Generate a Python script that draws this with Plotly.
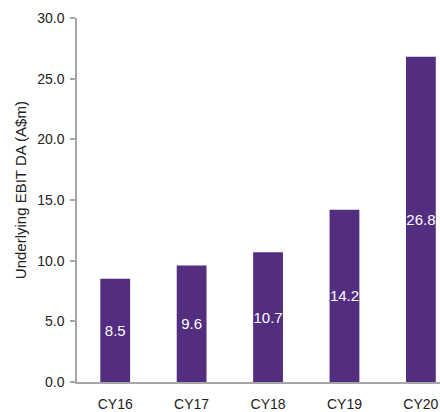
import plotly.graph_objects as go

categories = ["CY16", "CY17", "CY18", "CY19", "CY20"]
values = [8.5, 9.6, 10.7, 14.2, 26.8]
labels = ["8.5", "9.6", "10.7", "14.2", "26.8"]
y_title = "Underlying EBIT DA (A$m)"

FONT = "Liberation Sans, Arial, sans-serif"

fig = go.Figure(go.Bar(
    x=list(range(len(categories))),
    y=values,
    text=labels,
    textposition="inside",
    insidetextanchor="middle",
    textangle=0,
    constraintext="none",
    textfont=dict(color="white", size=15, family=FONT),
    marker=dict(color="#522D80", line=dict(width=0)),
    width=0.39,
    cliponaxis=False,
))

fig.update_layout(
    width=440, height=412,
    margin=dict(l=77, r=0, t=18, b=30, autoexpand=False),
    paper_bgcolor="white", plot_bgcolor="white",
    showlegend=False,
    uniformtext=dict(minsize=15, mode="show"),
    font=dict(family=FONT, color="#222222", size=14),
    xaxis=dict(
        range=[-0.5, 4.25],
        automargin=False,
        tickmode="array",
        tickvals=list(range(len(categories))),
        ticktext=categories,
        showline=True, linecolor="#A6A6A6", linewidth=1.5,
        ticks="", showgrid=False, zeroline=False,
        ticklabelstandoff=8,
        tickfont=dict(size=14, family=FONT, color="#222222"),
    ),
    yaxis=dict(
        range=[0, 30],
        automargin=False,
        tickvals=[0, 5, 10, 15, 20, 25, 30],
        tickformat=".1f",
        showline=True, linecolor="#A6A6A6", linewidth=1.5,
        ticks="outside", ticklen=5, tickcolor="#A6A6A6", tickwidth=1.5,
        ticklabelstandoff=3,
        showgrid=False, zeroline=False,
        tickfont=dict(size=14, family=FONT, color="#222222"),
    ),
    annotations=[dict(
        text=y_title, textangle=-90,
        xref="paper", yref="paper", x=-0.157, y=0.527,
        xanchor="center", yanchor="middle", showarrow=False,
        font=dict(size=15, family=FONT, color="#222222"),
    )],
)

fig.write_html(
    "out.html",
    config={"displayModeBar": False},
    post_script="document.body.style.margin='0';document.body.style.overflow='hidden';",
)
